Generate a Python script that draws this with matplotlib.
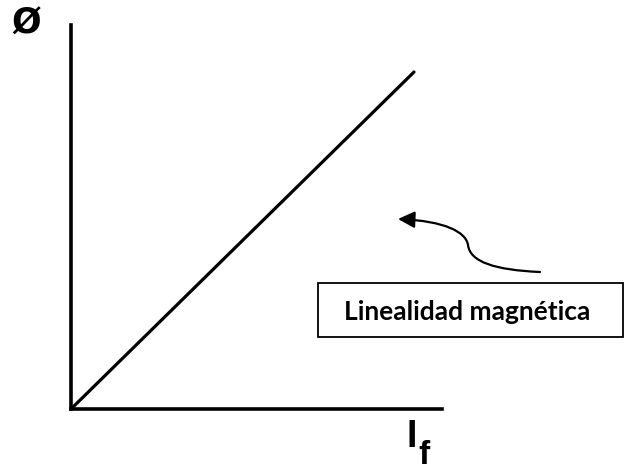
import matplotlib
matplotlib.use("Agg")
import matplotlib.pyplot as plt
from matplotlib.patches import FancyArrowPatch, Rectangle
from matplotlib.path import Path

# Data: linear magnetization curve (flux vs field current)
field_current = [0.0, 1.0]
flux = [0.0, 1.0]
y_label = "Ø"
x_label_main = "I"
x_label_sub = "f"
box_text = "Linealidad magnética"

W, H = 629, 473
fig = plt.figure(figsize=(W / 100, H / 100), dpi=100)

# Main axes (spines are the drawn axes)
x0, x1 = 71, 442
y0, y1 = 409, 25
ax = fig.add_axes([x0 / W, (H - y0) / H, (x1 - x0) / W, (y0 - y1) / H])
ax.plot(field_current, flux, color="black", lw=2.3, solid_capstyle="round")
ax.set_xlim(0, 1.0816)
ax.set_ylim(0, 1.1395)
for s in ["top", "right"]:
    ax.spines[s].set_visible(False)
for s in ["left", "bottom"]:
    ax.spines[s].set_linewidth(2.6)
    ax.spines[s].set_color("black")
ax.set_xticks([])
ax.set_yticks([])
ax.patch.set_alpha(0)

# Overlay in pixel coordinates for annotations
ov = fig.add_axes([0, 0, 1, 1])
ov.set_xlim(0, W)
ov.set_ylim(H, 0)
ov.axis("off")
ov.patch.set_alpha(0)

ov.text(26, 24, y_label, fontsize=25, fontweight="bold",
        family="DejaVu Sans", ha="center", va="center")
ov.text(411.5, 437, x_label_main, fontsize=27, fontweight="bold",
        family="Liberation Sans", ha="center", va="center")
ov.text(424, 464, x_label_sub, fontsize=24, fontweight="bold",
        family="Liberation Sans", ha="center", va="baseline")

# Box with label
ov.add_patch(Rectangle((318, 283), 623 - 318, 337 - 283, fill=False,
                       edgecolor="black", lw=1.3))
ov.text(467.5, 312, box_text, fontsize=19, fontweight="bold",
        family="Lato", ha="center", va="center")

# Curved arrow
verts = [(540, 272), (495, 270), (470, 262), (468, 245),
         (466, 232), (445, 221), (398, 219)]
codes = [Path.MOVETO] + [Path.CURVE4] * 6
arrow = FancyArrowPatch(path=Path(verts, codes),
                        arrowstyle="-|>,head_length=10,head_width=5",
                        color="black", lw=1.6, transform=ov.transData)
ov.add_patch(arrow)

fig.savefig("out.png", dpi=100, facecolor="white")
